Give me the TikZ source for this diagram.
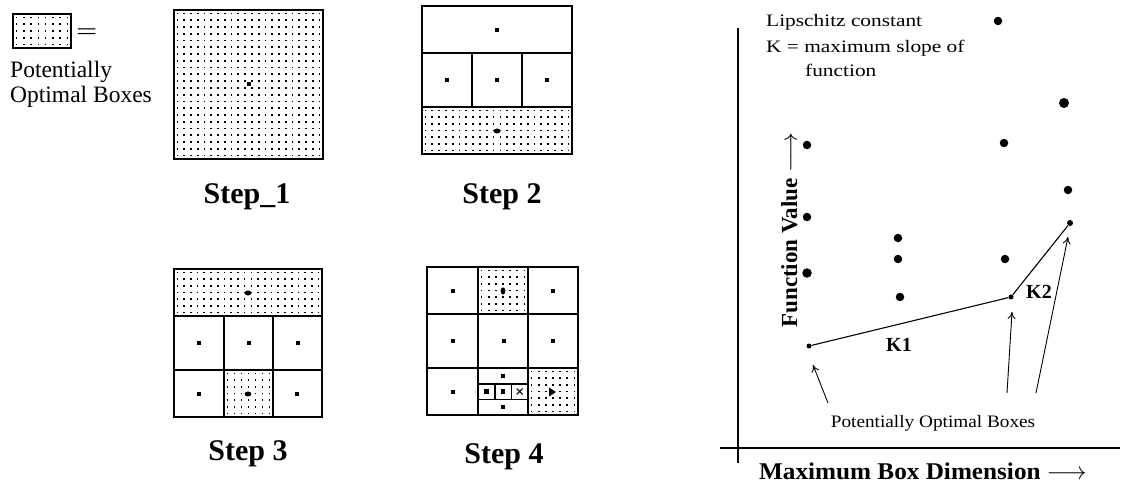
\documentclass[tikz,border=0pt]{standalone}
\usepackage{fontspec}
\usepackage{graphicx}
\setmainfont{Liberation Serif}
\usetikzlibrary{arrows.meta}

% stippled fill: x1,y1,x2,y2, columns, rows
\newcommand\stipple[6]{%
  \pgfmathsetmacro\sdx{(#3-#1)/#5}%
  \pgfmathsetmacro\sdy{(#4-#2)/#6}%
  \foreach \ii in {1,...,#5}{\foreach \jj in {1,...,#6}{%
    \fill ({#1+(\ii-0.5)*\sdx-0.85},{#2+(\jj-0.5)*\sdy-0.85}) rectangle ++(1.7,1.7);}}}
% square centre dot
\newcommand\sq[2]{\fill ({#1-2.2},{#2-2.2}) rectangle ++(4.4,4.4);}
% oval centre dot
\newcommand\ov[2]{\fill (#1,#2) ellipse (3.4 and 2.5);}

\begin{document}
\begin{tikzpicture}[x=1pt,y=-1pt,
  frame/.style={line width=2pt},
  cell/.style={line width=1.6pt},
  axis/.style={line width=1.6pt},
  pt/.style={circle,fill=black,inner sep=0pt,minimum size=8.5pt},
  spt/.style={circle,fill=black,inner sep=0pt,minimum size=5pt},
  steplabel/.style={font=\bfseries\fontsize{30}{32}\selectfont,anchor=base,inner sep=0pt},
  legendtxt/.style={font=\fontsize{23.5}{26}\selectfont,anchor=base west,inner sep=0pt},
  note/.style={font=\fontsize{17.5}{20}\selectfont,anchor=base west,inner sep=0pt},
  klabel/.style={font=\bfseries\fontsize{20}{22}\selectfont,anchor=base,inner sep=0pt},
  pointer/.style={line width=0.9pt,-{To[length=7pt,width=8pt]}},
  slope/.style={line width=1.1pt},
]
\useasboundingbox (0,0) rectangle (1122,484);

% ---------- legend ----------
\stipple{13}{14}{71}{48}{8}{5}
\draw[frame] (13,14) rectangle (71,48);
\node[legendtxt] (eq) at (76,40) {\scalebox{1.6}[1]{=}};
\node[legendtxt] (leg1) at (10,78) {Potentially};
\node[legendtxt] (leg2) at (10,103) {Optimal Boxes};

% ---------- Step 1 ----------
\stipple{174}{10}{323}{159}{22}{22}
\draw[frame] (174,10) rectangle (323,159);
\sq{249}{84}
\node[steplabel] (s1) at (247,204) {Step\_1};

% ---------- Step 2 ----------
\stipple{422}{107}{572}{154}{22}{7}
\draw[cell] (422,53) -- (572,53) (422,107) -- (572,107)
            (472,53) -- (472,107) (522,53) -- (522,107);
\draw[frame] (422,6) rectangle (572,154);
\sq{497}{30}
\sq{447}{80} \sq{497}{80} \sq{547}{80}
\ov{497}{131}
\node[steplabel] (s2) at (502,204) {Step 2};

% ---------- Step 3 ----------
\stipple{174}{269}{322}{316}{22}{7}
\stipple{224}{370}{273}{417}{7}{7}
\draw[cell] (174,316) -- (322,316) (174,370) -- (322,370)
            (224,316) -- (224,417) (273,316) -- (273,417);
\draw[frame] (174,269) rectangle (322,417);
\ov{248}{293}
\sq{199}{343} \sq{249}{343} \sq{298}{343}
\sq{199}{394} \ov{248}{394} \sq{297}{394}
\node[steplabel] (s3) at (248,460) {Step 3};

% ---------- Step 4 ----------
\stipple{478}{267}{528}{314}{7}{7}
\stipple{528}{368}{578}{415}{7}{7}
\draw[cell] (427,314) -- (578,314) (427,368) -- (578,368)
            (478,267) -- (478,415) (528,267) -- (528,415);
\draw[cell] (478,383.7) -- (528,383.7) (478,399.3) -- (528,399.3)
            (494.7,383.7) -- (494.7,399.3) (511.3,383.7) -- (511.3,399.3);
\draw[frame] (427,267) rectangle (578,415);
\sq{453}{291} \fill (503,291) ellipse (2.4 and 3.6); \sq{553}{291}
\sq{453}{341} \sq{504}{341} \sq{553}{341}
\sq{453}{392}
\sq{503}{376} \sq{486.3}{391.5} \sq{503}{391.5} \sq{503}{407}
\draw[line width=1.1pt] (516.8,388.6) -- (522.6,394.4) (522.6,388.6) -- (516.8,394.4);
\fill (549,387.5) -- (556,392) -- (549,396.5) -- cycle;
\node[steplabel] (s4) at (504,463) {Step 4};

% ---------- right: function value vs box size ----------
\coordinate (ytop) at (738,28);
\coordinate (ybot) at (738,463);
\coordinate (xl) at (720,448);
\coordinate (xr) at (1120,448);
\draw[axis] (ytop) -- (ybot);
\draw[axis] (xl) -- (xr);

\node[note] (lip1) at (766,27) {\scalebox{1.22}[1]{Lipschitz constant}};
\node[note] (lip2) at (766,53) {\scalebox{1.22}[1]{K = maximum slope of}};
\node[note] (lip3) at (805,77) {\scalebox{1.22}[1]{function}};

\node[pt] (p1) at (998,21) {};
\node[pt,minimum width=10pt] (p2) at (1064,103) {};
\node[pt] (p3) at (807,145) {};
\node[pt] (p4) at (1004,143) {};
\node[pt] (p5) at (1068,190) {};
\node[pt] (p6) at (807,217) {};
\node[pt] (p7) at (898,238) {};
\node[pt] (p8) at (898,259) {};
\node[pt] (p9) at (1005,259) {};
\node[pt,minimum size=9.5pt] (p10) at (807,273) {};
\node[pt] (p11) at (900,297) {};
\node[spt] (k1a) at (809,346) {};
\node[spt] (k12) at (1011,297) {};
\node[spt,minimum size=6pt] (k2b) at (1070,223) {};

\draw[slope] (k1a) -- (k12) -- (k2b);
\node[klabel] (K1) at (899,351) {K1};
\node[klabel] (K2) at (1039,298) {K2};

\node[font=\fontsize{17.5}{20}\selectfont,anchor=base,inner sep=0pt] (pob) at (933,427)
  {\scalebox{1.1}[1]{Potentially Optimal Boxes}};
\coordinate (a1s) at (828,403);
\coordinate (a1e) at (813,365);
\coordinate (a2s) at (1007,393);
\coordinate (a2e) at (1012,312);
\coordinate (a3s) at (1036,393);
\coordinate (a3e) at (1068,237);
\draw[pointer] (a1s) -- (a1e);
\draw[pointer] (a2s) -- (a2e);
\draw[pointer] (a3s) -- (a3e);

\node[font=\bfseries\fontsize{24}{26}\selectfont,anchor=base west,inner sep=0pt] (xlab) at (759,479)
  {\scalebox{1.05}[1]{Maximum Box Dimension} $\longrightarrow$};
\node[font=\bfseries\fontsize{23}{25}\selectfont,rotate=90,anchor=base,inner sep=0pt] (ylab) at (797,230)
  {Function Value $\longrightarrow$};
\end{tikzpicture}
\end{document}
